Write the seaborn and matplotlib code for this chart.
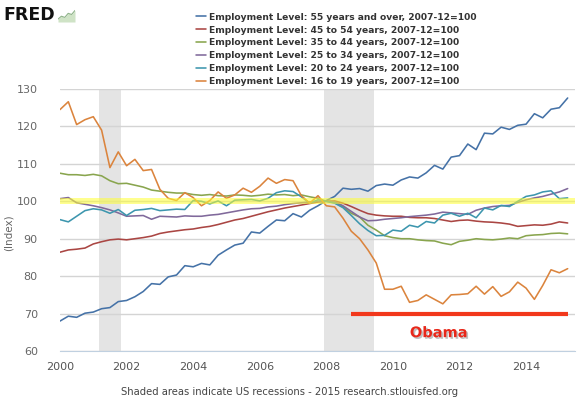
import numpy as np
import pandas as pd
import seaborn as sns
import matplotlib.patheffects as pe
from matplotlib import pyplot as plt

# quarterly readings, 2000Q1 .. 2015Q2 (index, 2007-12 = 100)
years = [2000 + q / 4 for q in range(62)]

age_55_over = [
    68.0, 69.3, 69.0, 70.1, 70.4, 71.3, 71.6, 73.2, 73.5, 74.5, 75.9, 78.0,
    77.8, 79.8, 80.3, 82.8, 82.5, 83.4, 83.0, 85.6, 87.0, 88.3, 88.8, 91.8,
    91.5, 93.3, 95.0, 94.8, 96.7, 95.8, 97.6, 98.8, 100.2, 101.3, 103.5, 103.2,
    103.4, 102.7, 104.2, 104.6, 104.3, 105.7, 106.5, 106.2, 107.6, 109.6, 108.6, 111.8,
    112.2, 115.3, 113.8, 118.2, 118.0, 119.8, 119.2, 120.3, 120.6, 123.4, 122.3, 124.6,
    125.0, 127.6,
]
age_45_54 = [
    86.4, 87.0, 87.2, 87.5, 88.6, 89.2, 89.7, 89.9, 89.7, 90.0, 90.3, 90.7,
    91.4, 91.8, 92.1, 92.4, 92.6, 93.0, 93.3, 93.8, 94.4, 95.0, 95.4, 96.0,
    96.6, 97.2, 97.7, 98.2, 98.6, 99.0, 99.4, 99.8, 100.0, 100.1, 99.5, 98.6,
    97.6, 96.7, 96.3, 96.1, 96.0, 96.0, 95.7, 95.6, 95.6, 95.4, 95.0, 94.6,
    94.9, 95.0, 94.7, 94.5, 94.4, 94.2, 93.9, 93.3, 93.5, 93.7, 93.6, 93.9,
    94.5, 94.2,
]
age_35_44 = [
    107.5, 107.1, 107.1, 106.9, 107.2, 106.8, 105.5, 104.7, 104.8, 104.3, 103.8, 103.0,
    102.7, 102.4, 102.2, 102.2, 101.8, 101.6, 101.8, 101.5, 101.4, 101.7, 101.6, 101.4,
    101.6, 101.9, 101.7, 101.8, 101.5, 101.7, 101.2, 100.8, 100.0, 99.6, 98.5, 96.8,
    95.8, 93.6, 92.3, 90.8, 90.3, 90.0, 90.0, 89.7, 89.5, 89.4, 88.8, 88.4,
    89.3, 89.6, 90.0, 89.8, 89.7, 89.9, 90.2, 90.0, 90.8, 91.0, 91.1, 91.4,
    91.5, 91.3,
]
age_25_34 = [
    100.7, 101.0, 99.6, 99.2, 98.8, 98.3, 97.7, 96.9, 96.0, 96.1, 96.2, 95.2,
    96.0, 95.9, 95.8, 96.1, 96.0, 96.0, 96.3, 96.5, 96.9, 97.3, 97.7, 98.0,
    98.1, 98.5, 98.7, 99.1, 99.4, 99.6, 99.8, 100.0, 100.0, 99.9, 98.8, 97.3,
    95.8, 94.8, 94.9, 95.2, 95.4, 95.6, 95.9, 96.1, 96.3, 96.6, 97.1, 96.9,
    96.7, 96.5, 97.6, 98.2, 98.6, 98.8, 98.9, 99.7, 100.4, 100.9, 101.3, 101.9,
    102.5, 103.4,
]
age_20_24 = [
    95.1, 94.5, 96.0, 97.5, 98.0, 97.7, 96.8, 97.8, 96.2, 97.6, 97.8, 98.1,
    97.5, 97.7, 97.9, 97.8, 100.2, 100.0, 99.3, 100.1, 98.8, 100.3, 100.4, 100.5,
    100.1, 100.8, 102.3, 102.8, 102.6, 101.2, 99.5, 100.4, 100.0, 99.5, 98.3, 96.2,
    94.0, 92.2, 90.8, 90.9, 92.3, 92.0, 93.6, 93.1, 94.6, 94.2, 96.3, 96.8,
    96.0, 96.8, 95.6, 98.2, 97.7, 98.9, 98.6, 100.0, 101.3, 101.7, 102.5, 102.8,
    100.7, 100.9,
]
age_16_19 = [
    124.5, 126.6, 120.5, 121.8, 122.6, 119.0, 109.0, 113.2, 109.5, 111.2, 108.2, 108.5,
    103.2, 100.8, 100.2, 102.3, 101.0, 98.8, 100.2, 102.5, 100.8, 101.7, 103.5, 102.4,
    104.0, 106.2, 104.8, 105.8, 105.5, 101.5, 99.5, 101.5, 98.8, 98.5, 95.5, 92.0,
    90.0, 87.0, 83.5, 76.5, 76.5, 77.3, 73.0, 73.5, 75.0, 73.8, 72.6, 75.0,
    75.1, 75.3, 77.3, 75.2, 77.2, 74.6, 75.8, 78.4, 76.8, 73.8, 77.5, 81.7,
    80.9, 82.0,
]

series_names = [
    "Employment Level: 55 years and over, 2007-12=100",
    "Employment Level: 45 to 54 years, 2007-12=100",
    "Employment Level: 35 to 44 years, 2007-12=100",
    "Employment Level: 25 to 34 years, 2007-12=100",
    "Employment Level: 20 to 24 years, 2007-12=100",
    "Employment Level: 16 to 19 years, 2007-12=100",
]
series_values = [age_55_over, age_45_54, age_35_44, age_25_34, age_20_24, age_16_19]
colors = ["#4572a7", "#aa4643", "#89a54e", "#80699b", "#3d96ae", "#db843d"]

recessions = [(2001.17, 2001.83), (2007.92, 2009.42)]
obama_span = (2008.75, 2015.25)
x_ticks = list(range(2000, 2015, 2))
y_ticks = list(range(60, 131, 10))

df = pd.concat(
    [pd.DataFrame({"year": years, "value": vals, "series": name})
     for name, vals in zip(series_names, series_values)],
    ignore_index=True,
)

sns.set_style("white")
plt.rcParams["font.family"] = ["DejaVu Sans"]

fig = plt.figure(figsize=(5.83, 3.99), dpi=100)
ax = fig.add_axes([60 / 583, 48 / 399, 515 / 583, 262 / 399])

for start, end in recessions:
    ax.axvspan(start, end, color="#e4e4e4", lw=0, zorder=0)

sns.lineplot(
    data=df, x="year", y="value", hue="series", hue_order=series_names,
    palette=colors, linewidth=1.15, ax=ax, zorder=3,
)
handles, labels = ax.get_legend_handles_labels()
ax.get_legend().remove()

ax.axhspan(99.2, 100.8, color="#ffff33", alpha=0.55, lw=0, zorder=4)
ax.plot(obama_span, [70, 70], color="#f2381c", lw=3, solid_capstyle="butt", zorder=5)
ax.text(2011.38, 64.9, "Obama", color="#e8281a", fontsize=10.5, fontweight="bold",
        ha="center", va="center", zorder=6,
        path_effects=[pe.withSimplePatchShadow(offset=(1.2, -1.2),
                                               shadow_rgbFace="#999999", alpha=0.6)])

ax.set_xlim(2000, 2015.47)
ax.set_ylim(60, 130)
ax.set_xticks(x_ticks)
ax.set_yticks(y_ticks)
ax.yaxis.grid(True, color="#d4d4d4", lw=1)
ax.set_axisbelow(True)
for side in ["left", "right", "top"]:
    ax.spines[side].set_visible(False)
ax.spines["bottom"].set_color("#c0d0e0")
ax.tick_params(axis="x", colors="#c0d0e0", length=5, width=1, labelcolor="#555555",
               labelsize=8, pad=3)
ax.tick_params(axis="y", length=0, labelcolor="#666666", labelsize=8, pad=16)
ax.set_xlabel("")
ax.set_ylabel("(Index)", color="#666666", fontsize=7.5, labelpad=2)
ax.yaxis.set_label_coords(-0.09, 0.45)

fig.legend(
    handles, labels, loc="upper left", bbox_to_anchor=(192 / 583, 1 - 9 / 399),
    frameon=False, handlelength=1.1, handletextpad=0.4, labelspacing=0.42,
    prop={"size": 6.6, "weight": "bold"}, labelcolor="#333333", borderaxespad=0,
)

fig.text(3 / 583, 1 - 20 / 399, "FRED", fontsize=12.5, fontweight="heavy", color="#111111")
icon = fig.add_axes([58 / 583, 1 - 22 / 399, 17 / 583, 13 / 399])
icon.fill_between([0, 1, 2, 3, 4, 5], [1, 2, 1.6, 3, 2.6, 4], color="#cfe3c6", lw=0)
icon.plot([0, 1, 2, 3, 4, 5], [1, 2, 1.6, 3, 2.6, 4], color="#8fb38a", lw=0.8)
icon.set_xlim(0, 5)
icon.set_ylim(0, 4.5)
icon.axis("off")

fig.text(290 / 583, 7 / 399, "Shaded areas indicate US recessions - 2015 research.stlouisfed.org",
         ha="center", va="center", fontsize=7.2, color="#444444")

fig.savefig("out.png", dpi=100)
